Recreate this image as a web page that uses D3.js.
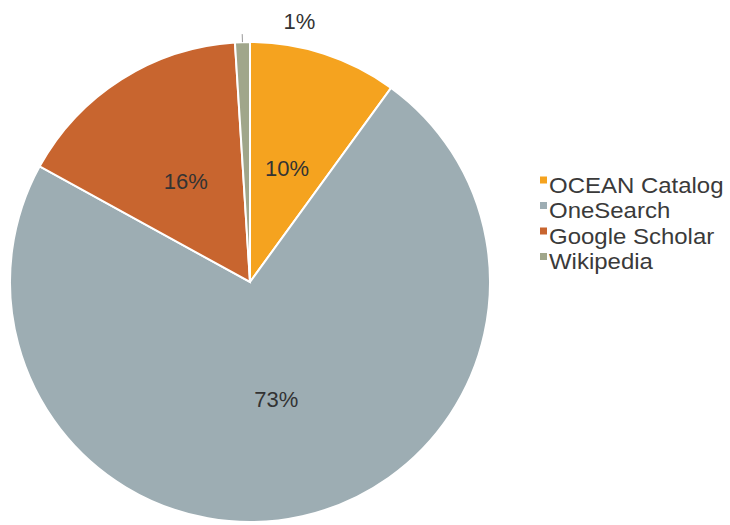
<!DOCTYPE html>
<html>
<head>
<meta charset="utf-8">
<script src="https://cdn.jsdelivr.net/npm/d3@7"></script>
<style>
  body { margin: 0; background: #fff; }
  text { font-family: "Liberation Sans", Arial, sans-serif; fill: #333; }
</style>
</head>
<body>
<svg id="chart" width="730" height="525"></svg>
<script>
const categories = ['OCEAN Catalog', 'OneSearch', 'Google Scholar', 'Wikipedia'];
const shares = [10, 73, 16, 1];
const colors = ['#F5A31F', '#9DADB3', '#C8652F', '#A0A68A'];

const svg = d3.select('#chart');
const cx = 250, cy = 282, radius = 240;

const data = categories.map((name, i) => ({ name, value: shares[i], color: colors[i] }));

const pie = d3.pie().sort(null).value(d => d.value);
const arcs = pie(data);

const arc = d3.arc().innerRadius(0).outerRadius(radius);
const labelArc = d3.arc().innerRadius(radius / 2).outerRadius(radius / 2);

const g = svg.append('g').attr('transform', `translate(${cx},${cy})`);

g.selectAll('path.slice')
  .data(arcs)
  .enter()
  .append('path')
  .attr('class', 'slice')
  .attr('d', arc)
  .attr('fill', d => d.data.color)
  .attr('stroke', '#fff')
  .attr('stroke-width', 2);

const inside = arcs.filter(d => d.data.value >= 5);
const outside = arcs.filter(d => d.data.value < 5);

g.selectAll('text.inside')
  .data(inside)
  .enter()
  .append('text')
  .attr('class', 'inside')
  .attr('transform', d => `translate(${labelArc.centroid(d)})`)
  .attr('text-anchor', 'middle')
  .attr('dy', '0.36em')
  .style('font-size', '22px')
  .text(d => d.data.value + '%');

// small slices get a leader tick and a label above the pie
outside.forEach(d => {
  const mid = (d.startAngle + d.endAngle) / 2;
  const x = Math.sin(mid), y = -Math.cos(mid);
  g.append('line')
    .attr('x1', x * radius).attr('y1', y * radius)
    .attr('x2', x * (radius + 8)).attr('y2', y * (radius + 8))
    .attr('stroke', '#999')
    .attr('stroke-width', 1);
  g.append('text')
    .attr('x', x * radius + 57)
    .attr('y', y * radius - 21)
    .attr('text-anchor', 'middle')
    .attr('dy', '0.36em')
    .style('font-size', '22px')
    .text(d.data.value + '%');
});

// Legend
const legend = svg.append('g').attr('transform', 'translate(540,180)');
const rowH = 25.5;

const rows = legend.selectAll('g.row')
  .data(data)
  .enter()
  .append('g')
  .attr('class', 'row')
  .attr('transform', (d, i) => `translate(0,${i * rowH})`);

rows.append('rect')
  .attr('x', 0)
  .attr('y', -3.5)
  .attr('width', 7)
  .attr('height', 7)
  .attr('fill', d => d.color);

// legend font in the original is a little wider than Liberation Sans
rows.append('text')
  .attr('transform', 'translate(9,5) scale(1.09,1)')
  .attr('dy', '0.36em')
  .style('font-size', '22px')
  .style('fill', '#3a3a3a')
  .text(d => d.name);
</script>
</body>
</html>
